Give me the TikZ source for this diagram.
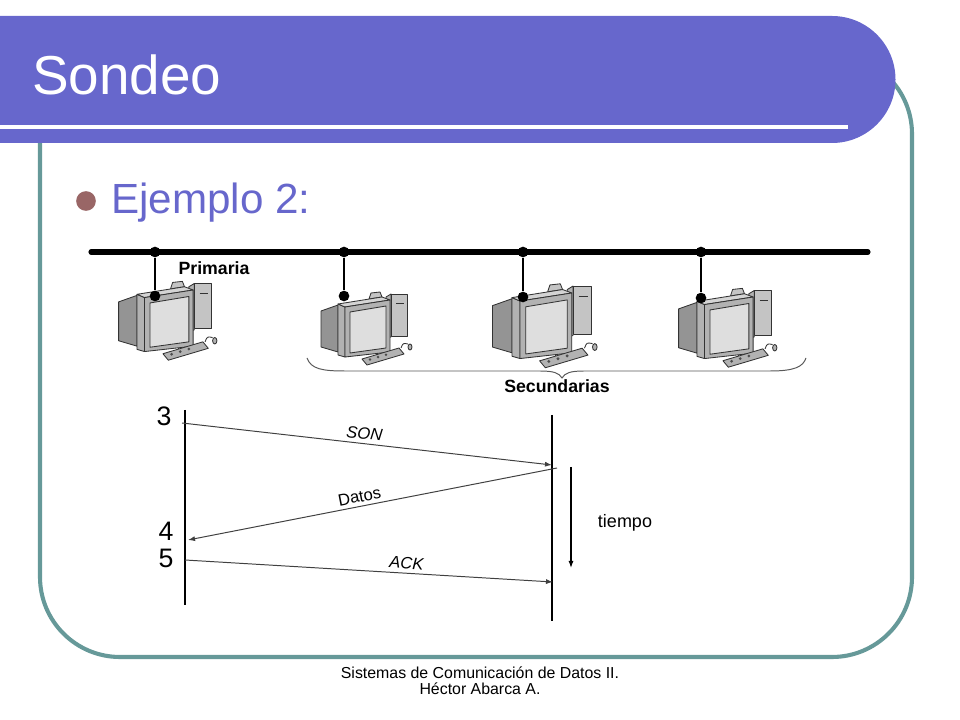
\documentclass[tikz,border=0pt]{standalone}
\usepackage{fontspec}
\setmainfont{Liberation Sans}
\usetikzlibrary{arrows.meta}
\definecolor{bandblue}{RGB}{103,103,204}
\definecolor{framegreen}{RGB}{102,153,153}
\definecolor{bulletbrown}{RGB}{153,102,102}
\definecolor{pcdark}{RGB}{148,148,148}
\definecolor{pcmid}{RGB}{178,178,178}
\definecolor{pclight}{RGB}{196,196,196}
\definecolor{pctop}{RGB}{212,212,212}
\definecolor{pcscreen}{RGB}{222,222,222}
\tikzset{
  band/.style={fill=bandblue},
  frame/.style={draw=framegreen,line width=2.9pt,rounded corners=2cm},
  titletext/.style={text=white,font=\fontsize{39}{45}\selectfont,inner sep=0pt},
  itemtext/.style={text=bandblue,font=\fontsize{30}{36}\selectfont,inner sep=0pt},
  bulletdot/.style={circle,fill=bulletbrown,inner sep=0pt,minimum size=14pt},
  bus/.style={line width=3.6pt,line cap=round},
  tap/.style={line width=2.1pt},
  tapdot/.style={circle,fill,inner sep=0pt,minimum size=7.6pt},
  pcline/.style={draw=black!80,line width=0.6pt,line join=round},
  pclbl/.style={font=\bfseries\fontsize{12.6}{14}\selectfont,inner sep=0pt},
  brace/.style={draw=black!65,line width=0.7pt},
  life/.style={line width=0.9pt},
  msg/.style={draw=black!75,line width=0.7pt,-{Latex[length=5pt,width=3.6pt]}},
  msglbl/.style={font=\fontsize{11.8}{13}\selectfont,inner sep=2.6pt},
  num/.style={font=\fontsize{19}{21}\selectfont,inner sep=0pt},
  timetext/.style={font=\fontsize{12.8}{14}\selectfont,inner sep=0pt},
  foot/.style={font=\fontsize{11.3}{13}\selectfont,inner sep=0pt}
}
\newcommand{\pcicon}[2]{%
  \begin{scope}[shift={(#1)},scale=#2,pcline]
    \filldraw[fill=pcdark] (-17,11) -- (0,5) -- (0,52) -- (-17,47) -- cycle;
    \filldraw[fill=pcmid] (48,-3) -- (53,-6) -- (53,37) -- (48,38) -- cycle;
    \filldraw[fill=pclight] (53,-6) rectangle (69,36);
    \draw (58,3) -- (66,3);
    \filldraw[fill=pclight] (31,-1) -- (33,-7) -- (42,-8) -- (44,-3) -- cycle;
    \filldraw[fill=pcmid] (0,4) -- (7,7) -- (7,57) -- (0,55) -- cycle;
    \filldraw[fill=pctop] (0,4) -- (44,-3) -- (52,0) -- (7,7) -- cycle;
    \filldraw[fill=pcmid] (7,7) -- (52,0) -- (52,52) -- (7,57) -- cycle;
    \filldraw[fill=pcscreen] (12,12) -- (48,6) -- (48,48) -- (12,53) -- cycle;
    \draw (38,54) -- (38,59);
    \filldraw[fill=pcmid] (24,59) -- (61,48) -- (66,54) -- (29,65) -- cycle;
    \foreach \kx/\ky in {32/59.5,40/57.1,48/54.7} \fill[black!70] (\kx,\ky) circle (1.4);
    \draw (63,48) .. controls (65,43) .. (70,44);
    \filldraw[fill=pcmid] (72,47) ellipse (2 and 3);
  \end{scope}}

\begin{document}
\begin{tikzpicture}[x=0.025cm,y=-0.025cm]
  \useasboundingbox (0,0) rectangle (960,720);
  \draw[frame] (40,54) rectangle (912,657);
  \fill[band] (0,16) -- (832,16) arc[start angle=-90,end angle=90,radius=63.5] -- (0,143) -- cycle;
  \fill[white] (0,125) rectangle (848,129.5);
  \node[titletext,anchor=base west] (title) at (32,95) {Sondeo};
  \node[bulletdot] (bul) at (86,201) {};
  \node[itemtext,anchor=base west] (item) at (111,214) {Ejemplo 2:};

  \pcicon{137,290}{1.08}
  \pcicon{338,300}{1}
  \pcicon{512,293}{1.15}
  \pcicon{697,297}{1.08}

  \coordinate (busL) at (91,252);
  \coordinate (busR) at (868,252);
  \draw[bus] (busL) -- (busR);
  \foreach \i/\x/\y in {1/155/296,2/344/296,3/523/297,4/701/298}{
    \node[tapdot] (b\i) at (\x,252) {};
    \node[tapdot] (d\i) at (\x,\y) {};
    \draw[tap] (b\i) -- (d\i);
  }
  \node[pclbl] (prim) at (214,268) {Primaria};
  \coordinate (brL) at (307,358);
  \coordinate (brM) at (562,378);
  \coordinate (brR) at (806,358);
  \draw[brace] (brL) .. controls (311,369) and (322,371) .. (345,371) -- (540,371)
    .. controls (554,371) and (559,373) .. (brM)
    .. controls (565,373) and (570,371) .. (584,371) -- (770,371)
    .. controls (794,371) and (803,367) .. (brR);
  \node[pclbl] (sec) at (557,386) {Secundarias};

  \coordinate (pTop) at (185,410);
  \coordinate (pBot) at (185,605);
  \coordinate (sTop) at (552,415);
  \coordinate (sBot) at (552,621);
  \draw[life] (pTop) -- (pBot);
  \draw[life] (sTop) -- (sBot);
  \node[num] (n3) at (164,416) {3};
  \node[num] (n4) at (166,531) {4};
  \node[num] (n5) at (166,558) {5};
  \coordinate (p3) at (182,423);
  \coordinate (s3) at (552,465);
  \coordinate (s4) at (557,468);
  \coordinate (p4) at (188,540);
  \coordinate (p5) at (185,560);
  \coordinate (s5) at (553,582);
  \draw[msg] (p3) -- node[msglbl,sloped,above,pos=0.49] {\itshape SON} (s3);
  \draw[msg] (s4) -- node[msglbl,sloped,above,pos=0.53] {Datos} (p4);
  \draw[msg] (p5) -- node[msglbl,sloped,above,pos=0.6] {\itshape ACK} (s5);
  \coordinate (tTop) at (571,467);
  \coordinate (tBot) at (571,568);
  \draw[life,-{Latex[length=5pt,width=3.6pt]}] (tTop) -- (tBot);
  \node[timetext] (tiempo) at (625,523) {tiempo};

  \node[foot] (f1) at (480,673) {Sistemas de Comunicación de Datos II.};
  \node[foot] (f2) at (480,689) {Héctor Abarca A.};
\end{tikzpicture}
\end{document}
